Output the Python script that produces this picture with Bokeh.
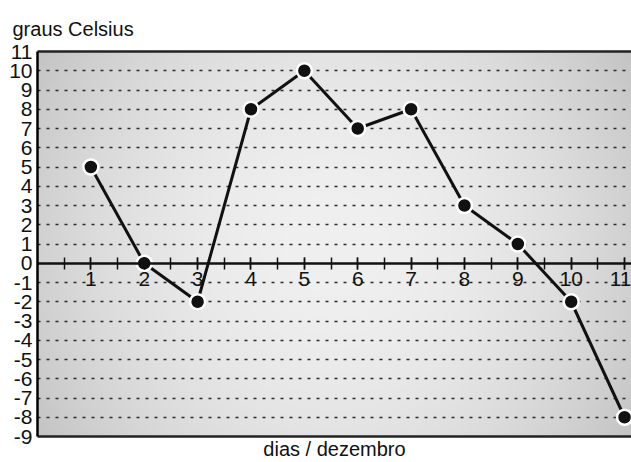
import numpy as np
from bokeh.plotting import figure
from bokeh.models import LinearAxis, FixedTicker, Range1d, Grid
from bokeh.embed import file_html
from bokeh.resources import INLINE

# data
dias = [1, 2, 3, 4, 5, 6, 7, 8, 9, 10, 11]
temperaturas = [5, 0, -2, 8, 10, 7, 8, 3, 1, -2, -8]
y_ticks = list(range(-9, 12))
x_ticks = list(range(1, 12))
x_minor = [i / 2 for i in range(1, 23)]
grid_levels = [v for v in range(-8, 11) if v != 0]

FONT = "Liberation Sans"
X0, X1 = 0, 11.13
Y0, Y1 = -9, 11

p = figure(width=631, height=462, output_backend="svg", toolbar_location=None,
           x_range=Range1d(X0, X1), y_range=Range1d(Y0, Y1),
           min_border_left=37, min_border_right=0, min_border_top=51, min_border_bottom=25,
           x_axis_location=None, y_axis_location=None)
p.background_fill_color = "white"
p.border_fill_color = "white"
p.outline_line_color = None

# radial gradient background (style only)
H, W = 200, 300
yy, xx = np.mgrid[0:H, 0:W]
dx = (xx / (W - 1) - 0.5) * 594
dy = (yy / (H - 1) - 0.5) * 386
r = np.sqrt(dx ** 2 + dy ** 2) / 297.0
v = np.clip(240 - 31 * r ** 2, 194, 241).astype(np.uint32)
img = (255 << 24) | (v << 16) | (v << 8) | v
p.image_rgba(image=[img.view(np.uint32)], x=X0, y=Y0, dw=X1 - X0, dh=Y1 - Y0, level="image")

# grid
p.ygrid.visible = False
p.xgrid.visible = False
g = Grid(dimension=1, ticker=FixedTicker(ticks=grid_levels),
         grid_line_color="#2a2a2a", grid_line_width=1.5, grid_line_dash="3 6")
p.add_layout(g)

# y axis (left)
ya = LinearAxis(ticker=FixedTicker(ticks=y_ticks))
ya.major_label_overrides = {t: str(t) for t in y_ticks}
ya.axis_line_color = "black"
ya.axis_line_width = 2.5
ya.major_tick_out = 0
ya.major_tick_in = 0
ya.minor_tick_out = 0
ya.major_label_standoff = 5
ya.major_label_text_font = FONT
ya.major_label_text_font_size = "21px"
ya.major_label_text_color = "#111111"
p.add_layout(ya, "left")

# top border
ta = LinearAxis(ticker=FixedTicker(ticks=[]))
ta.axis_line_color = "#222222"
ta.axis_line_width = 2.5
ta.major_label_text_font_size = "0px"
ta.major_tick_out = 0
ta.minor_tick_out = 0
p.add_layout(ta, "above")

# bottom border with axis label
ba = LinearAxis(ticker=FixedTicker(ticks=[]))
ba.axis_line_color = "#222222"
ba.axis_line_width = 2.5
ba.major_label_text_font_size = "0px"
ba.major_tick_out = 0
ba.minor_tick_out = 0
ba.axis_label = "dias / dezembro"
ba.axis_label_standoff = 1
ba.axis_label_text_font = FONT
ba.axis_label_text_font_size = "20px"
ba.axis_label_text_font_style = "normal"
ba.axis_label_text_color = "#111111"
p.add_layout(ba, "below")

# x axis at zero
xa = LinearAxis(ticker=FixedTicker(ticks=x_ticks, minor_ticks=x_minor), fixed_location=0)
xa.axis_line_color = "#111111"
xa.axis_line_width = 2.5
xa.major_tick_in = 6
xa.major_tick_out = 6
xa.minor_tick_in = 6
xa.minor_tick_out = 6
xa.major_tick_line_width = 1.5
xa.minor_tick_line_width = 1.5
xa.major_tick_line_color = "#111111"
xa.minor_tick_line_color = "#111111"
xa.major_label_standoff = 3
xa.major_label_text_font = FONT
xa.major_label_text_font_size = "21px"
xa.major_label_text_color = "#111111"
p.add_layout(xa, "below")

# data
p.line(dias, temperaturas, line_color="#111111", line_width=3)
p.scatter(dias, temperaturas, size=15, fill_color="#111111", line_color="white", line_width=2.5)

# title
p.title.text = "graus Celsius"
p.title.text_font = FONT
p.title.text_font_size = "20px"
p.title.text_font_style = "normal"
p.title.text_color = "#111111"
p.title.align = "left"
p.title.offset = -25
p.title.standoff = 24

open("out.html", "w").write(file_html(p, INLINE))
